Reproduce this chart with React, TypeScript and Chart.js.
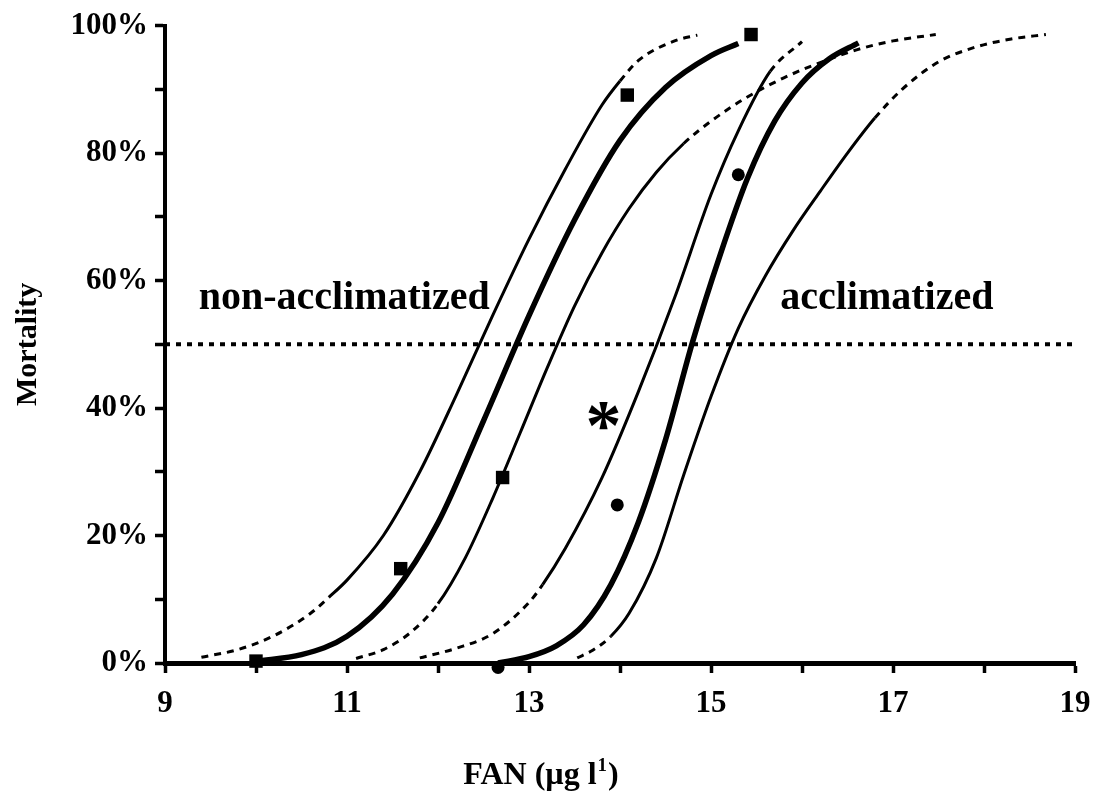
import { useEffect, useRef } from 'react';
import { Chart, registerables } from 'chart.js';

Chart.register(...registerables);

// ---------- data ----------
const xLabeledTicks = [9, 11, 13, 15, 17, 19];
const yLabeledTicks = [0, 20, 40, 60, 80, 100];

// Non-acclimatized: fitted curve
const naFitX = [10.0, 10.5, 11.0, 11.5, 12.0, 12.5, 13.0, 13.5, 14.0, 14.5, 15.0, 15.3];
const naFitY = [0.3, 1.3, 4.2, 10.8, 22.0, 38.0, 54.5, 69.5, 82.0, 90.3, 95.3, 97.2];
// Non-acclimatized: left confidence limit
const naLowX = [9.4, 9.8, 10.2, 10.6, 10.8, 11.0, 11.4, 11.8, 12.2, 12.6, 13.0, 13.4, 13.8, 14.0, 14.2, 14.6, 14.85];
const naLowY = [0.9, 2.1, 4.3, 7.8, 10.3, 13.0, 20.0, 30.0, 42.0, 54.5, 66.5, 77.5, 87.5, 91.3, 94.5, 97.6, 98.5];
// Non-acclimatized: right confidence limit
const naHighX = [11.1, 11.4, 11.7, 12.0, 12.3, 12.6, 12.9, 13.2, 13.5, 13.8, 14.1, 14.4, 14.7, 15.0, 15.4, 15.8, 16.2, 16.6, 17.0, 17.47];
const naHighY = [0.7, 2.1, 4.8, 9.3, 16.5, 25.8, 36.0, 46.3, 56.0, 64.3, 71.3, 77.0, 81.5, 85.0, 88.8, 91.8, 94.2, 96.2, 97.6, 98.6];

// Acclimatized: fitted curve
const acFitX = [12.66, 13.0, 13.3, 13.6, 13.9, 14.2, 14.5, 14.8, 15.1, 15.4, 15.7, 16.0, 16.3, 16.62];
const acFitY = [0.0, 1.0, 2.7, 6.0, 12.3, 22.0, 35.0, 50.5, 64.0, 76.0, 85.0, 91.0, 94.8, 97.3];
// Acclimatized: left confidence limit
const acLowX = [11.8, 12.2, 12.6, 13.0, 13.15, 13.4, 13.8, 14.2, 14.6, 15.0, 15.3, 15.65, 16.0];
const acLowY = [0.8, 2.3, 4.6, 9.5, 12.3, 18.0, 29.0, 42.5, 57.3, 73.5, 83.5, 92.8, 97.5];
// Acclimatized: right confidence limit
const acHighX = [13.53, 13.7, 13.9, 14.1, 14.4, 14.7, 15.0, 15.3, 15.6, 15.9, 16.2, 16.5, 16.8, 17.1, 17.5, 17.9, 18.3, 18.68];
const acHighY = [0.8, 2.0, 4.2, 7.8, 16.5, 29.5, 41.8, 52.5, 60.8, 67.8, 74.0, 80.0, 85.5, 90.0, 94.3, 96.6, 97.9, 98.6];

// Observed mortality
const naObsX = [10.0, 11.59, 12.71, 14.08, 15.44];
const naObsY = [0.3, 14.8, 29.1, 89.1, 98.6];
const acObsX = [12.66, 13.97, 15.3];
const acObsY = [-0.7, 24.8, 76.6];

// 50% reference line
const refX = [9, 19];
const refY = [50, 50];

// annotations (text, x value, y value)
const groupLabels = ['non-acclimatized', 'acclimatized'];
const groupLabelX = [9.37, 15.76];
const groupLabelY = [55.6, 55.6];
const starLabel = '*';
const starX = 13.82;
const starY = 33.5;

const FONT = '"Liberation Serif", "Times New Roman", serif';

const pts = (xs: number[], ys: number[]) => xs.map((x, i) => ({ x, y: ys[i] }));

const dashOutside = (lo: number, hi: number) => ({
  borderDash: (ctx: any) => {
    const a = ctx.p0.parsed.x;
    const b = ctx.p1.parsed.x;
    return b <= lo + 1e-9 || a >= hi - 1e-9 ? [7, 6] : undefined;
  },
});

const textPlugin = {
  id: 'textPlugin',
  afterDraw(chart: any) {
    const { ctx, chartArea } = chart;
    const xs = chart.scales.x;
    const ys = chart.scales.y;
    ctx.save();
    ctx.fillStyle = '#000';
    ctx.textBaseline = 'alphabetic';
    ctx.textAlign = 'left';
    ctx.font = `bold 40px ${FONT}`;
    groupLabels.forEach((t, i) => {
      ctx.fillText(t, xs.getPixelForValue(groupLabelX[i]), ys.getPixelForValue(groupLabelY[i]));
    });
    ctx.textAlign = 'center';
    ctx.font = `bold 72px ${FONT}`;
    ctx.fillText(starLabel, xs.getPixelForValue(starX), ys.getPixelForValue(starY));

    // x-axis title with superscript
    const main = 'FAN (µg l';
    const sup = '1';
    const close = ')';
    ctx.textAlign = 'left';
    ctx.font = `bold 32px ${FONT}`;
    const w1 = ctx.measureText(main).width;
    const w3 = ctx.measureText(close).width;
    ctx.font = `bold 19px ${FONT}`;
    const w2 = ctx.measureText(sup).width;
    const cx = (chartArea.left + chartArea.right) / 2 - 80;
    const base = chartArea.bottom + 121;
    let sx = cx - (w1 + w2 + w3) / 2;
    ctx.font = `bold 32px ${FONT}`;
    ctx.fillText(main, sx, base);
    sx += w1;
    ctx.font = `bold 19px ${FONT}`;
    ctx.fillText(sup, sx + 1, base - 13);
    sx += w2 + 2;
    ctx.font = `bold 32px ${FONT}`;
    ctx.fillText(close, sx, base);
    ctx.restore();
  },
};

export default function App() {
  const ref = useRef<HTMLCanvasElement | null>(null);

  useEffect(() => {
    if (!ref.current) return;
    const thin = 3;
    const thick = 5.5;
    const lineBase = {
      showLine: true,
      pointRadius: 0,
      borderColor: '#000',
      backgroundColor: '#000',
      cubicInterpolationMode: 'monotone' as const,
      fill: false,
    };
    const chart = new Chart(ref.current, {
      type: 'scatter',
      data: {
        datasets: [
          {
            ...lineBase,
            label: '50%',
            data: pts(refX, refY),
            borderWidth: 4,
            borderDash: [5, 6],
            cubicInterpolationMode: 'default',
            tension: 0,
          },
          { ...lineBase, label: 'non-acclimatized fit', data: pts(naFitX, naFitY), borderWidth: thick },
          { ...lineBase, label: 'non-acclimatized lower', data: pts(naLowX, naLowY), borderWidth: thin, segment: dashOutside(10.8, 14.0) },
          { ...lineBase, label: 'non-acclimatized upper', data: pts(naHighX, naHighY), borderWidth: thin, segment: dashOutside(12.0, 14.7) },
          { ...lineBase, label: 'acclimatized fit', data: pts(acFitX, acFitY), borderWidth: thick },
          { ...lineBase, label: 'acclimatized lower', data: pts(acLowX, acLowY), borderWidth: thin, segment: dashOutside(13.15, 15.65) },
          { ...lineBase, label: 'acclimatized upper', data: pts(acHighX, acHighY), borderWidth: thin, segment: dashOutside(13.9, 16.8) },
          {
            label: 'non-acclimatized observed',
            data: pts(naObsX, naObsY),
            pointStyle: 'rect',
            pointRadius: 9.5,
            backgroundColor: '#000',
            borderWidth: 0,
            clip: false,
          },
          {
            label: 'acclimatized observed',
            data: pts(acObsX, acObsY),
            pointStyle: 'circle',
            pointRadius: 6.5,
            backgroundColor: '#000',
            borderWidth: 0,
            clip: false,
          },
        ] as any,
      },
      options: {
        animation: false,
        responsive: true,
        maintainAspectRatio: false,
        layout: { padding: { top: 23, right: 28, left: 0, bottom: 0 } },
        plugins: { legend: { display: false }, tooltip: { enabled: false } },
        scales: {
          x: {
            type: 'linear',
            min: 9,
            max: 19,
            afterFit: (s: any) => {
              s.height = 134;
            },
            ticks: {
              stepSize: 1,
              autoSkip: false,
              maxRotation: 0,
              padding: 12,
              color: '#000',
              font: { family: FONT, size: 31, weight: 'bold' },
              callback: (v: any) => (xLabeledTicks.includes(Number(v)) ? String(v) : ''),
            },
            grid: { drawOnChartArea: false, drawTicks: true, tickLength: 10, tickWidth: 3.5, tickColor: '#000' },
            border: { display: true, color: '#000', width: 5 },
          },
          y: {
            type: 'linear',
            min: 0,
            max: 100,
            afterFit: (s: any) => {
              s.width = 165;
            },
            ticks: {
              stepSize: 10,
              padding: 7,
              color: '#000',
              font: { family: FONT, size: 31, weight: 'bold' },
              callback: (v: any) => (yLabeledTicks.includes(Number(v)) ? `${v}%` : ''),
            },
            grid: { drawOnChartArea: false, drawTicks: true, tickLength: 10, tickWidth: 3.5, tickColor: '#000' },
            border: { display: true, color: '#000', width: 4 },
            title: {
              display: true,
              text: 'Mortality',
              color: '#000',
              font: { family: FONT, size: 30, weight: 'bold' },
              padding: { top: 10, bottom: 0 },
            },
          },
        },
      } as any,
      plugins: [textPlugin],
    });
    return () => chart.destroy();
  }, []);

  return (
    <div style={{ position: 'fixed', left: 0, top: 0, width: 1103, height: 797, background: '#fff' }}>
      <canvas ref={ref} />
    </div>
  );
}
